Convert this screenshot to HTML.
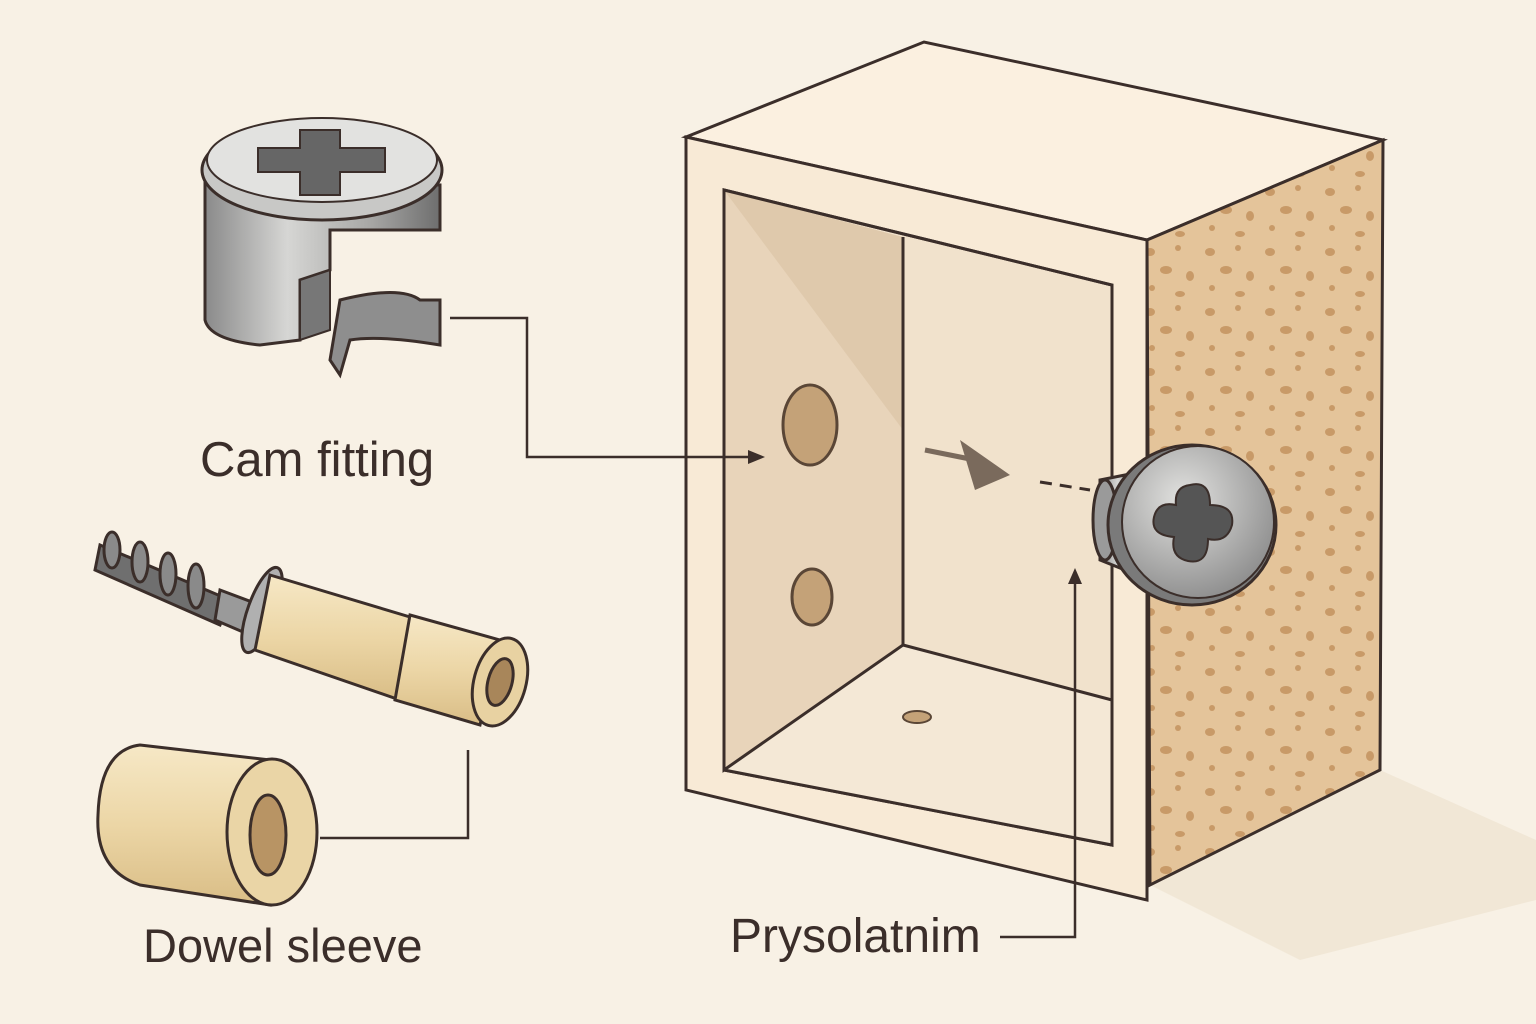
<!DOCTYPE html>
<html><head><meta charset="utf-8"><style>
html,body{margin:0;padding:0;background:#f8f1e5;}
svg{display:block}
text{font-family:"Liberation Sans",sans-serif;fill:#3b2e2a}
</style></head><body>
<svg width="1536" height="1024" viewBox="0 0 1536 1024" xmlns="http://www.w3.org/2000/svg">
<defs>
<linearGradient id="met" x1="0" x2="1" y1="0" y2="0">
<stop offset="0" stop-color="#8a8a8a"/><stop offset=".35" stop-color="#d6d6d4"/><stop offset=".7" stop-color="#a8a8a6"/><stop offset="1" stop-color="#6e6e6e"/></linearGradient>
<linearGradient id="wood" x1="0" x2="0" y1="0" y2="1">
<stop offset="0" stop-color="#f6e8c6"/><stop offset=".5" stop-color="#ecd6a6"/><stop offset="1" stop-color="#d9bd86"/></linearGradient>
<radialGradient id="head" cx=".4" cy=".35" r=".7"><stop offset="0" stop-color="#e2e2e0"/><stop offset="1" stop-color="#8c8c8c"/></radialGradient>
<pattern id="sp" width="60" height="60" patternUnits="userSpaceOnUse">
<rect width="60" height="60" fill="#e4c49a"/>
<ellipse cx="10" cy="12" rx="5" ry="4" fill="#c89a68"/><ellipse cx="38" cy="8" rx="3" ry="3" fill="#c89a68"/>
<ellipse cx="26" cy="30" rx="6" ry="4" fill="#c89a68"/><ellipse cx="50" cy="36" rx="4" ry="5" fill="#c89a68"/>
<ellipse cx="12" cy="48" rx="3" ry="3" fill="#c89a68"/><ellipse cx="40" cy="54" rx="5" ry="3" fill="#c89a68"/>
</pattern>
</defs>
<rect width="1536" height="1024" fill="#f8f1e5"/>
<!-- shadow -->
<polygon points="1150,885 1380,770 1536,840 1536,900 1300,960" fill="#f1e7d6"/>
<!-- box -->
<polygon points="686,137 924,42 1383,140 1147,240" fill="#fbf0e0" stroke="#3b2e2a" stroke-width="3"/>
<polygon points="1147,240 1383,140 1380,770 1150,885" fill="url(#sp)" stroke="#3b2e2a" stroke-width="3"/>
<polygon points="686,137 1147,240 1147,900 686,790" fill="#f8ead6" stroke="#3b2e2a" stroke-width="3"/>
<polygon points="724,190 1112,285 1112,845 724,770" fill="#f1e2cc" stroke="#3b2e2a" stroke-width="3"/>
<polygon points="724,190 903,237 903,645 724,770" fill="#e8d4ba"/>
<polygon points="724,190 903,237 903,430" fill="#dcc4a6" opacity=".7"/>
<polygon points="903,645 1112,700 1112,845 724,770" fill="#f4e8d6"/>
<polyline points="724,190 724,770 903,645 903,237" fill="none" stroke="#3b2e2a" stroke-width="3"/>
<line x1="903" y1="645" x2="1112" y2="700" stroke="#3b2e2a" stroke-width="3"/>
<polygon points="724,190 1112,285 1112,845 724,770" fill="none" stroke="#3b2e2a" stroke-width="3"/>
<ellipse cx="810" cy="425" rx="27" ry="40" fill="#c4a278" stroke="#5a4636" stroke-width="3"/>
<ellipse cx="812" cy="597" rx="20" ry="28" fill="#c4a278" stroke="#5a4636" stroke-width="3"/>
<ellipse cx="917" cy="717" rx="14" ry="6" fill="#c4a278" stroke="#5a4636" stroke-width="2"/>
<!-- arrow dashed -->
<path d="M925,450 L975,460" stroke="#7a6a5c" stroke-width="5"/>
<polygon points="960,440 1010,475 975,490" fill="#7a6a5c"/>
<line x1="1040" y1="482" x2="1090" y2="490" stroke="#3b2e2a" stroke-width="3" stroke-dasharray="12,8"/>
<!-- screw -->
<path d="M1100,480 L1150,470 L1150,580 L1100,560 Z" fill="url(#met)" stroke="#3b2e2a" stroke-width="3"/>
<ellipse cx="1105" cy="520" rx="12" ry="40" fill="#9a9a9a" stroke="#3b2e2a" stroke-width="3"/>
<ellipse cx="1192" cy="525" rx="84" ry="80" fill="#7a7a7a" stroke="#3b2e2a" stroke-width="3"/>
<ellipse cx="1198" cy="522" rx="76" ry="76" fill="url(#head)" stroke="#3b2e2a" stroke-width="2"/>
<path d="M1190,485 q20,-5 20,20 q25,0 22,20 q-5,18 -24,14 q0,26 -20,22 q-18,-4 -14,-24 q-24,-2 -20,-20 q4,-16 22,-12 q-2,-18 14,-20z" fill="#555" stroke="#3b2e2a" stroke-width="2"/>
<!-- connectors -->
<g stroke="#3b2e2a" stroke-width="2.5" fill="none">
<polyline points="450,318 527,318 527,457 755,457"/>
<polyline points="468,750 468,838 320,838"/>
<polyline points="1000,937 1075,937 1075,580"/>
</g>
<polygon points="765,457 748,450 748,464" fill="#3b2e2a"/>
<polygon points="1075,568 1068,584 1082,584" fill="#3b2e2a"/>
<!-- cam fitting -->
<path d="M205,180 L205,320 Q210,340 260,345 L300,340 L300,280 L330,270 L330,230 L440,230 L440,185 Z" fill="url(#met)" stroke="#3b2e2a" stroke-width="3"/>
<path d="M340,300 Q400,285 420,300 L440,300 L440,345 Q380,335 350,340 L340,375 L330,360 Z" fill="#8e8e8e" stroke="#3b2e2a" stroke-width="3"/>
<path d="M300,280 L330,270 L330,330 L300,340 Z" fill="#777" stroke="#3b2e2a" stroke-width="2"/>
<ellipse cx="322" cy="170" rx="120" ry="50" fill="#c8c8c6" stroke="#3b2e2a" stroke-width="3"/>
<ellipse cx="322" cy="160" rx="115" ry="42" fill="#e2e2e0" stroke="#3b2e2a" stroke-width="2"/>
<path d="M300,130 L340,130 L340,148 L385,148 L385,172 L340,172 L340,195 L300,195 L300,172 L258,172 L258,148 L300,148 Z" fill="#666" stroke="#3b2e2a" stroke-width="2"/>
<!-- dowel pin -->
<g stroke="#3b2e2a" stroke-width="3">
<path d="M100,545 L230,600 L220,625 L95,570 Z" fill="#6f6f6f"/>
<ellipse cx="112" cy="550" rx="8" ry="18" fill="#8a8a8a"/><ellipse cx="140" cy="562" rx="8" ry="20" fill="#8a8a8a"/>
<ellipse cx="168" cy="574" rx="8" ry="21" fill="#8a8a8a"/><ellipse cx="196" cy="586" rx="8" ry="22" fill="#8a8a8a"/>
<path d="M220,590 L260,605 L250,635 L215,620 Z" fill="#9a9a9a"/>
<ellipse cx="262" cy="610" rx="14" ry="45" transform="rotate(20 262 610)" fill="#b0b0b0"/>
<path d="M270,575 L420,620 L400,700 L255,650 Z" fill="url(#wood)"/>
<path d="M410,615 L500,640 L480,725 L395,700 Z" fill="url(#wood)"/>
<ellipse cx="500" cy="682" rx="26" ry="45" transform="rotate(15 500 682)" fill="#e8d2a2"/>
<ellipse cx="500" cy="682" rx="12" ry="24" transform="rotate(15 500 682)" fill="#a8865a"/>
</g>
<!-- dowel sleeve -->
<g stroke="#3b2e2a" stroke-width="3">
<path d="M140,745 L270,760 L270,905 L140,885 Q95,870 98,815 Q100,750 140,745 Z" fill="url(#wood)"/>
<ellipse cx="272" cy="832" rx="45" ry="73" fill="#ead5a6"/>
<ellipse cx="268" cy="835" rx="18" ry="40" fill="#b89464"/>
</g>
<!-- labels -->
<text x="200" y="476" font-size="49">Cam fitting</text>
<text x="143" y="962" font-size="47">Dowel sleeve</text>
<text x="730" y="952" font-size="48">Prysolatnim</text>
</svg>
</body></html>
